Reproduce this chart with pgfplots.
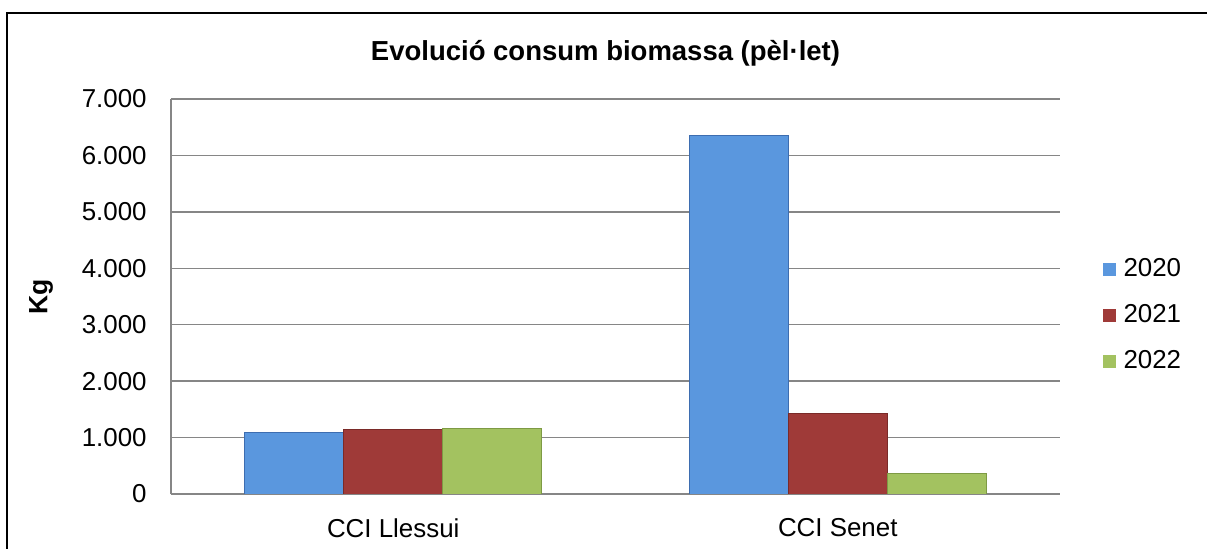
\documentclass[border=0pt]{standalone}
\usepackage{fontspec}
\setmainfont{Liberation Sans}
\usepackage{pgfplots}
\pgfplotsset{compat=1.18}
\definecolor{c2020}{HTML}{5A97DE}
\definecolor{c2021}{HTML}{9F3A38}
\definecolor{c2022}{HTML}{A3C260}
\definecolor{e2020}{HTML}{3D6DB0}
\definecolor{e2021}{HTML}{7A2A28}
\definecolor{e2022}{HTML}{7E9A44}
\definecolor{axgray}{HTML}{868686}
\begin{document}
\begin{tikzpicture}
\draw[line width=1bp] (3.5bp,0) -- (3.5bp,268bp) -- (603.5bp,268bp);
\node[font=\bfseries\fontsize{13.8}{16}\selectfont,anchor=base] at (302.75bp,244bp) {Evolució consum biomassa (pèl·let)};
\node[font=\bfseries\fontsize{13.3}{15}\selectfont,rotate=90] at (20.5bp,126bp) {Kg};
\begin{axis}[at={(85.5bp,27.5bp)},anchor=south west,
 width=444.5bp,height=197.5bp,scale only axis,
 xmin=-0.5,xmax=1.5,ymin=0,ymax=7000,
 xtick={0,1},xticklabels={CCI Llessui,CCI Senet},
 ytick={0,1000,...,7000},scaled y ticks=false,
 /pgf/number format/1000 sep={.},
 /pgf/number format/assume math mode=true,
 axis x line*=bottom,axis y line*=left,
 axis line style={-,draw=axgray,line width=0.75bp},
 ymajorgrids,grid style={draw=axgray,line width=0.75bp},
 major tick length=0pt,
 tick label style={font=\fontsize{13}{15}\selectfont},
 y tick label style={inner sep=0pt,anchor=east,xshift=-12bp},
 x tick label style={inner sep=0pt,anchor=north,yshift=-12bp},
 ybar,bar width=0.2225,
 legend style={draw=none,fill=none,at={(axis description cs:1,0.453)},anchor=west,
  xshift=21.5bp,inner sep=0pt,outer sep=0pt,row sep=11.5bp,
  font=\fontsize{13}{15}\selectfont,
  nodes={inner sep=0pt,text height=9.5bp,text depth=2bp}},
 legend image code/.code={\fill[#1,draw=none] (0bp,-3.25bp) rectangle (6.5bp,3.25bp);\path (10bp,0bp);}]
\addplot[fill=c2020,draw=e2020,line width=0.5bp,bar shift=-0.2225] coordinates {(0,1095) (1,6350)};
\addplot[fill=c2021,draw=e2021,line width=0.5bp,bar shift=0] coordinates {(0,1135) (1,1420)};
\addplot[fill=c2022,draw=e2022,line width=0.5bp,bar shift=0.2225] coordinates {(0,1152) (1,370)};
\legend{2020,2021,2022}
\end{axis}
\pgfresetboundingbox
\path[use as bounding box] (0,0) rectangle (603.5bp,274.5bp);
\end{tikzpicture}
\end{document}
